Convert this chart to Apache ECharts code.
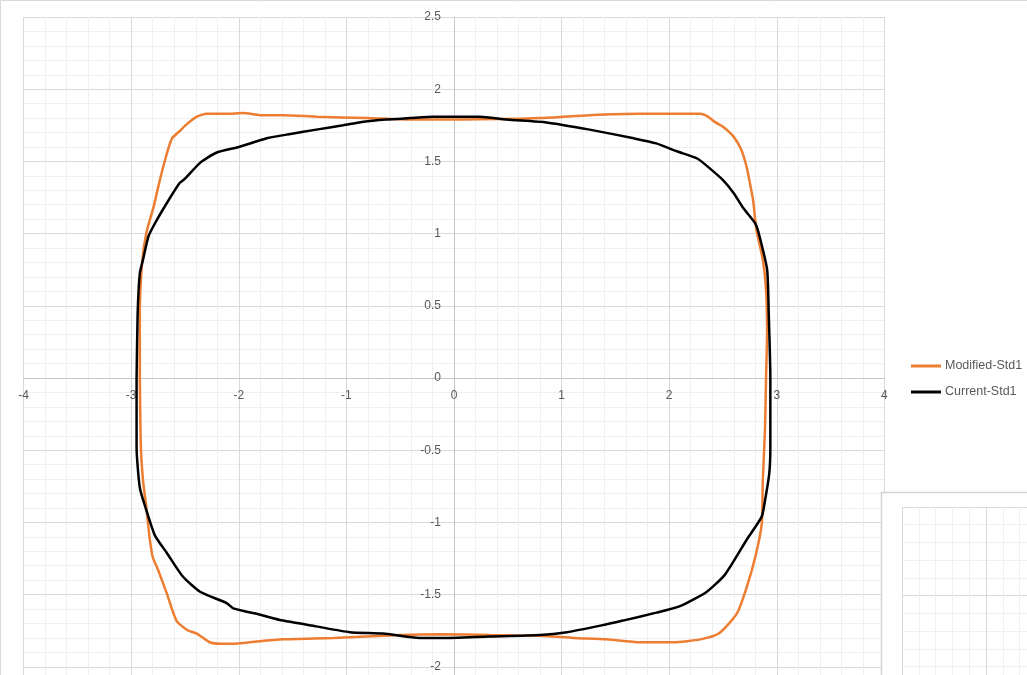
<!DOCTYPE html>
<html>
<head>
<meta charset="utf-8">
<title>Std1 profile</title>
<script src="https://cdn.jsdelivr.net/npm/echarts@6/dist/echarts.min.js"></script>
<style>
  html, body { margin: 0; padding: 0; background: #ffffff; }
  #chart { width: 1027px; height: 675px; }
</style>
</head>
<body>
<div id="chart"></div>
<script>
// Series names shown in the legend
const seriesNames = ['Modified-Std1', 'Current-Std1'];

// Closed outline of the modified profile, [x, y] pairs traced clockwise
const modifiedStd1 = [
  [-2.92, 0.00], [-2.92, 0.45], [-2.91, 0.68], [-2.89, 0.86], [-2.86, 1.00], [-2.84, 1.06],
  [-2.79, 1.19], [-2.75, 1.32], [-2.70, 1.47], [-2.65, 1.60], [-2.62, 1.66], [-2.55, 1.71],
  [-2.48, 1.76], [-2.39, 1.81], [-2.30, 1.83], [-2.11, 1.83], [-1.96, 1.835], [-1.80, 1.82],
  [-1.59, 1.82], [-1.28, 1.81], [-0.81, 1.80], [-0.35, 1.79], [0.06, 1.79], [0.80, 1.80],
  [1.26, 1.82], [1.73, 1.83], [2.04, 1.83], [2.29, 1.83], [2.36, 1.81], [2.43, 1.77],
  [2.50, 1.74], [2.60, 1.67], [2.67, 1.58], [2.72, 1.46], [2.75, 1.35], [2.78, 1.23],
  [2.81, 1.03], [2.87, 0.82], [2.90, 0.61], [2.91, 0.33], [2.90, 0.00], [2.89, -0.36],
  [2.87, -0.71], [2.86, -1.01], [2.80, -1.24], [2.72, -1.45], [2.63, -1.63], [2.46, -1.77],
  [2.29, -1.81], [2.04, -1.83], [1.73, -1.83], [1.42, -1.81], [1.11, -1.80], [0.80, -1.785],
  [0.33, -1.78], [-0.13, -1.775], [-0.50, -1.78], [-1.12, -1.80], [-1.59, -1.81], [-1.90, -1.83],
  [-2.05, -1.84], [-2.17, -1.84], [-2.27, -1.83], [-2.39, -1.77], [-2.48, -1.745], [-2.58, -1.68],
  [-2.67, -1.49], [-2.75, -1.33], [-2.80, -1.24], [-2.83, -1.10], [-2.86, -0.89], [-2.89, -0.71],
  [-2.91, -0.48], [-2.92, 0.00]
];

// Closed outline of the current profile, [x, y] pairs traced clockwise
const currentStd1 = [
  [-2.95, 0.00], [-2.94, 0.45], [-2.92, 0.725], [-2.89, 0.82], [-2.84, 0.98], [-2.78, 1.07],
  [-2.67, 1.21], [-2.55, 1.35], [-2.50, 1.38], [-2.36, 1.49], [-2.21, 1.56], [-2.00, 1.60],
  [-1.74, 1.66], [-1.52, 1.69], [-1.28, 1.72], [-1.03, 1.75], [-0.84, 1.775], [-0.63, 1.79],
  [-0.41, 1.80], [-0.19, 1.81], [0.24, 1.81], [0.49, 1.79], [0.86, 1.77], [1.26, 1.72],
  [1.67, 1.66], [1.88, 1.625], [2.07, 1.57], [2.26, 1.52], [2.38, 1.45], [2.50, 1.37],
  [2.60, 1.28], [2.69, 1.175], [2.80, 1.07], [2.84, 0.98], [2.91, 0.75], [2.925, 0.45],
  [2.94, 0.00], [2.94, -0.48], [2.93, -0.66], [2.89, -0.85], [2.86, -0.96], [2.72, -1.12],
  [2.52, -1.36], [2.35, -1.48], [2.10, -1.58], [1.88, -1.625], [1.57, -1.68], [1.36, -1.715],
  [1.05, -1.76], [0.80, -1.78], [0.33, -1.79], [-0.13, -1.80], [-0.32, -1.80], [-0.66, -1.77],
  [-0.97, -1.76], [-1.28, -1.72], [-1.59, -1.68], [-1.80, -1.64], [-2.05, -1.595], [-2.11, -1.56],
  [-2.36, -1.48], [-2.52, -1.375], [-2.67, -1.21], [-2.78, -1.09], [-2.87, -0.89], [-2.92, -0.76],
  [-2.95, -0.48], [-2.95, 0.00]
];

// Axis ranges
const xRange = { min: -4, max: 4, step: 1 };
const yRange = { min: -2.5, max: 2.5, step: 0.5 };

// Plot area size in pixels
const plot = { left: 23.6, top: 17, width: 860.8, height: 722 };

// Both axes cross at the origin: shift them from the plot edges to zero
const yAxisShift = -(0 - xRange.min) / (xRange.max - xRange.min) * plot.width;
const xAxisShift = -(0 - yRange.min) / (yRange.max - yRange.min) * plot.height;

const labelColor = '#595959';
const fontFamily = '"Liberation Sans", Arial, sans-serif';
const majorGrid = '#d9d9d9';
const minorGrid = '#f0f0f0';

const chart = echarts.init(document.getElementById('chart'), null, { renderer: 'canvas' });

chart.setOption({
  backgroundColor: '#ffffff',
  animation: false,
  textStyle: { fontFamily: fontFamily },
  graphic: [
    // outer chart frame
    { type: 'rect', z: -10, shape: { x: 0.5, y: 0.5, width: 1200, height: 900 },
      style: { fill: '#ffffff', stroke: '#d9d9d9', lineWidth: 1 } },
    // neighbouring chart panel in the lower right corner
    { type: 'rect', z: 5, shape: { x: 881.5, y: 492.5, width: 300, height: 300 },
      style: { fill: '#ffffff', stroke: '#d4d4d4', lineWidth: 1.5 } }
  ],
  legend: {
    data: seriesNames,
    orient: 'vertical',
    left: 906,
    top: 353,
    padding: 5,
    icon: 'rect',
    itemWidth: 30,
    itemHeight: 3,
    itemGap: 10,
    textStyle: { color: labelColor, fontSize: 12.5, lineHeight: 16, fontFamily: fontFamily, padding: [0, 0, 0, -1] }
  },
  grid: [
    { left: plot.left, top: plot.top, width: plot.width, height: plot.height, containLabel: false, outerBoundsMode: 'none' },
    { left: 902, top: 507, width: 168, height: 177.4, containLabel: false, outerBoundsMode: 'none', z: 6 }
  ],
  xAxis: [
    {
      gridIndex: 0, type: 'value', min: xRange.min, max: xRange.max, interval: xRange.step,
      position: 'bottom', offset: xAxisShift,
      axisLine: { show: true, onZero: false, lineStyle: { color: '#c6c6c6', width: 1 } },
      axisTick: { show: false },
      axisLabel: { color: labelColor, fontSize: 12, margin: 12, fontFamily: fontFamily },
      splitLine: { show: true, lineStyle: { color: majorGrid, width: 1 } },
      minorTick: { show: false, splitNumber: 5 },
      minorSplitLine: { show: true, lineStyle: { color: minorGrid, width: 1 } }
    },
    {
      gridIndex: 1, type: 'value', min: 0, max: 2, interval: 1,
      axisLine: { show: false }, axisTick: { show: false }, axisLabel: { show: false },
      splitLine: { show: true, lineStyle: { color: majorGrid, width: 1 } },
      minorTick: { show: false, splitNumber: 5 },
      minorSplitLine: { show: true, lineStyle: { color: minorGrid, width: 1 } },
      z: 6
    }
  ],
  yAxis: [
    {
      gridIndex: 0, type: 'value', min: yRange.min, max: yRange.max, interval: yRange.step,
      position: 'left', offset: yAxisShift,
      axisLine: { show: true, onZero: false, lineStyle: { color: '#c6c6c6', width: 1 } },
      axisTick: { show: false },
      axisLabel: { color: labelColor, fontSize: 12, margin: 13, fontFamily: fontFamily },
      splitLine: { show: true, lineStyle: { color: majorGrid, width: 1 } },
      minorTick: { show: false, splitNumber: 5 },
      minorSplitLine: { show: true, lineStyle: { color: minorGrid, width: 1 } }
    },
    {
      gridIndex: 1, type: 'value', min: 0, max: 2, interval: 1,
      axisLine: { show: false }, axisTick: { show: false }, axisLabel: { show: false },
      splitLine: { show: true, lineStyle: { color: majorGrid, width: 1 } },
      minorTick: { show: false, splitNumber: 5 },
      minorSplitLine: { show: true, lineStyle: { color: minorGrid, width: 1 } },
      z: 6
    }
  ],
  series: [
    {
      name: seriesNames[0], type: 'line', xAxisIndex: 0, yAxisIndex: 0,
      data: modifiedStd1, showSymbol: false, symbol: 'none', smooth: 0.2,
      color: '#ED7D31', lineStyle: { color: '#ED7D31', width: 2.5 }, z: 2
    },
    {
      name: seriesNames[1], type: 'line', xAxisIndex: 0, yAxisIndex: 0,
      data: currentStd1, showSymbol: false, symbol: 'none', smooth: 0.2,
      color: '#000000', lineStyle: { color: '#000000', width: 2.5 }, z: 3
    }
  ]
});
</script>
</body>
</html>
